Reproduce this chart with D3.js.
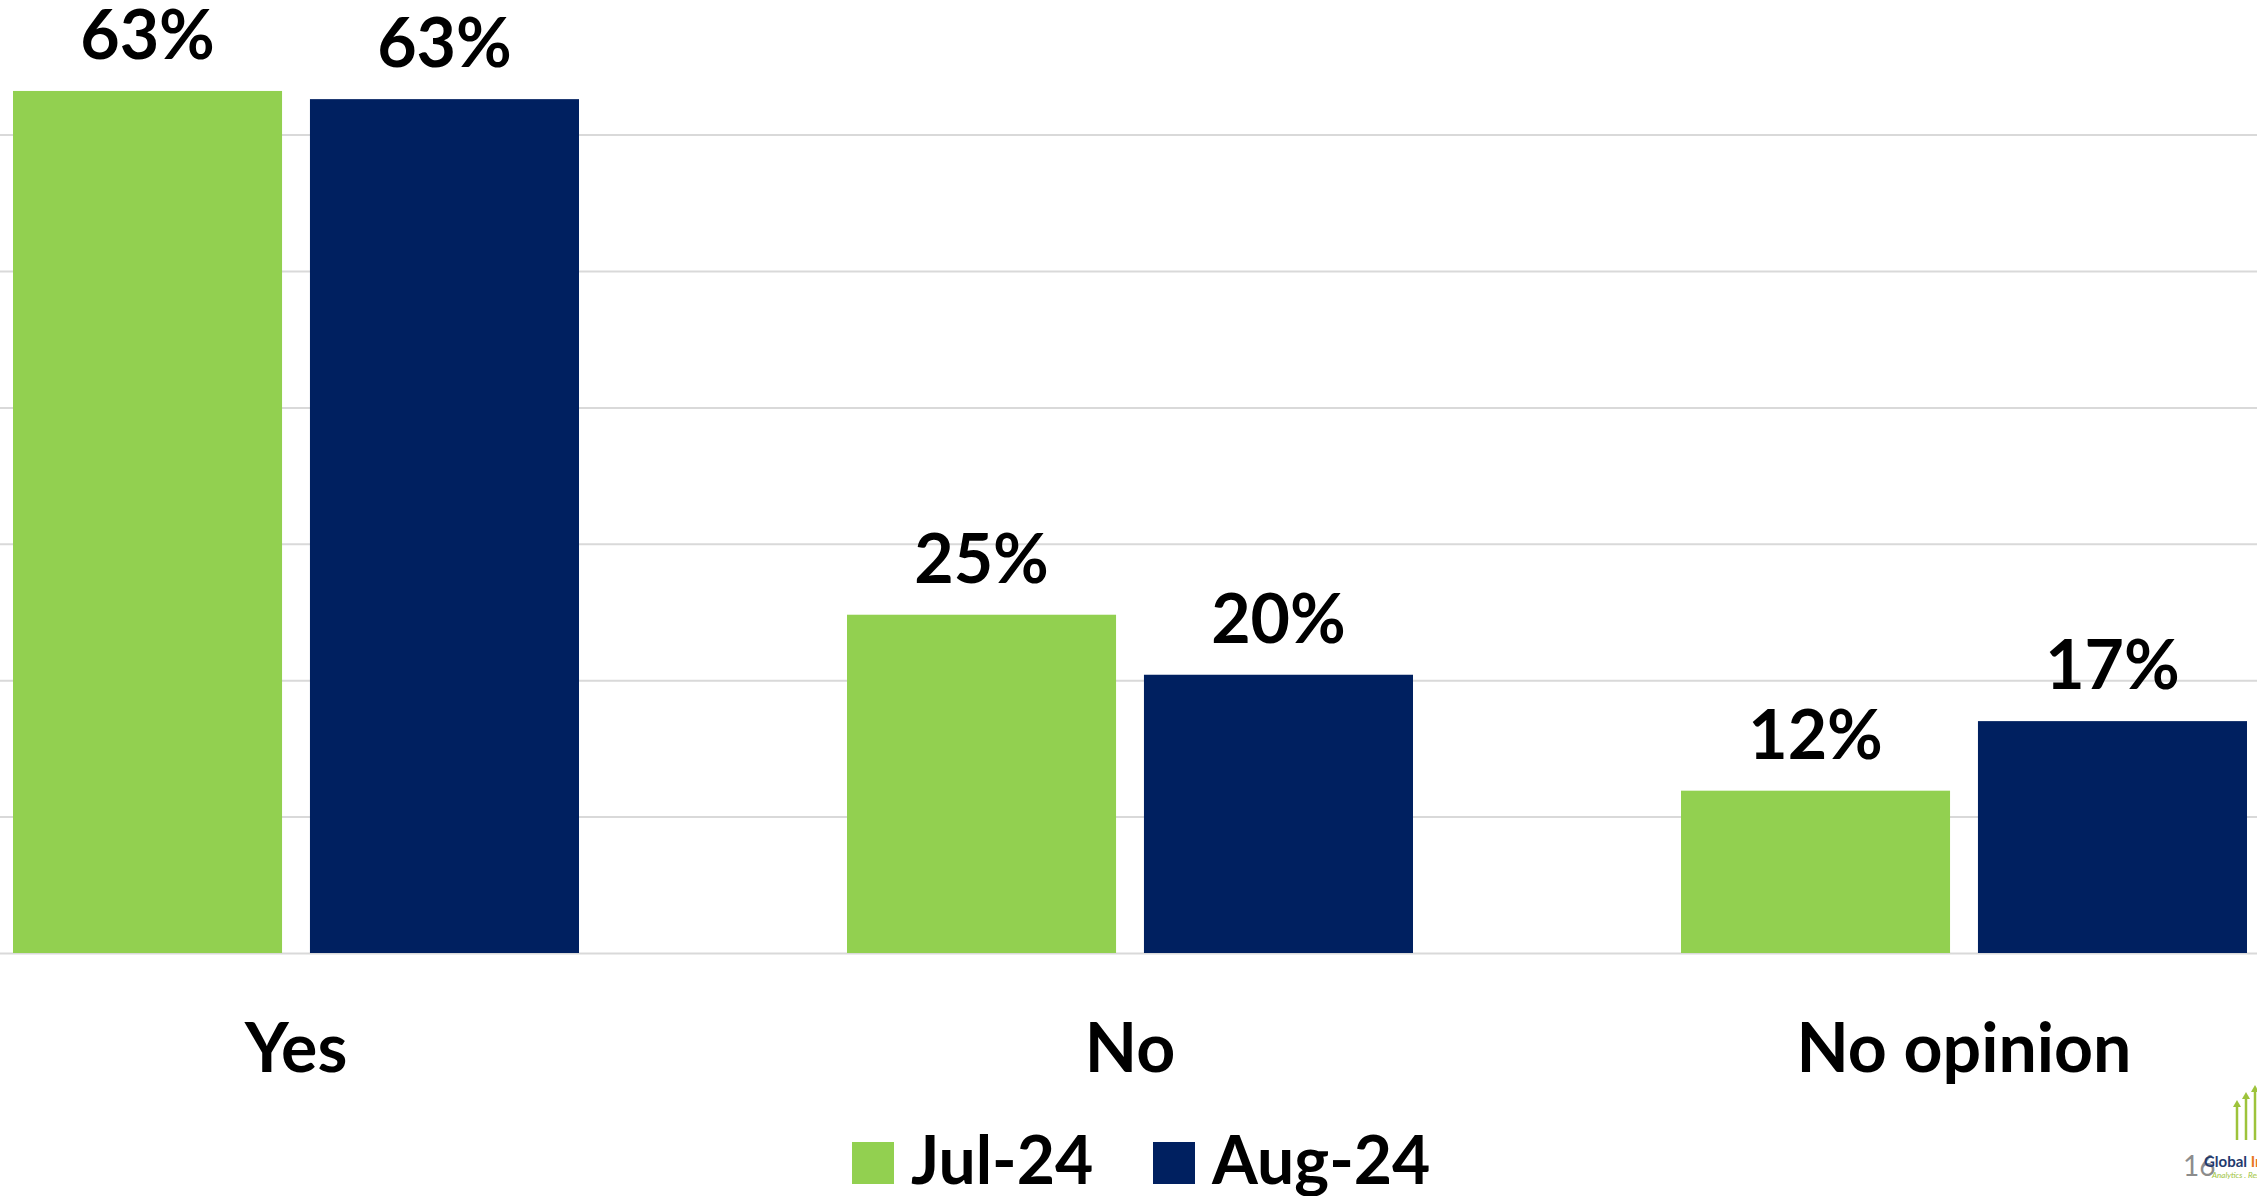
<!DOCTYPE html>
<html>
<head>
<meta charset="utf-8">
<script src="https://cdn.jsdelivr.net/npm/d3@7"></script>
<style>
  html, body { margin: 0; padding: 0; background: #fff; overflow: hidden; }
  svg { display: block; }
  text { font-family: Lato, "Open Sans", sans-serif; }
</style>
</head>
<body>
<svg id="chart" width="2257" height="1196"></svg>
<script>
const categories = ["Yes", "No", "No opinion"];
const seriesNames = ["Jul-24", "Aug-24"];
const jul24 = [63.2, 24.8, 11.9];
const aug24 = [62.6, 20.4, 17.0];
const yTicks = [0, 10, 20, 30, 40, 50, 60, 70];
const seriesColors = ["#92D050", "#002060"];

const W = 2257, H = 1196;
const svg = d3.select("#chart");

const x0 = d3.scaleBand().domain(categories).range([-121, 2381]);
const x1 = d3.scaleBand().domain(seriesNames).range([134, 700]).paddingInner(0.094);
const y = d3.scaleLinear().domain([0, 70]).range([953, -1.8]);
const color = d3.scaleOrdinal().domain(seriesNames).range(seriesColors);

// gridlines
const grid = svg.append("g").attr("class", "grid")
  .call(d3.axisLeft(y).tickValues(yTicks).tickSize(-W).tickFormat(""));
grid.select(".domain").remove();
grid.selectAll(".tick line").attr("stroke", "#d9d9d9").attr("stroke-width", 2);

const rows = categories.map((c, i) => ({
  category: c,
  values: [
    { series: seriesNames[0], value: jul24[i] },
    { series: seriesNames[1], value: aug24[i] }
  ]
}));

const groups = svg.append("g").selectAll("g.cat")
  .data(rows).join("g").attr("class", "cat")
  .attr("transform", d => `translate(${x0(d.category)},0)`);

groups.selectAll("rect")
  .data(d => d.values).join("rect")
  .attr("x", d => x1(d.series))
  .attr("width", x1.bandwidth())
  .attr("y", d => y(d.value))
  .attr("height", d => y(0) - y(d.value))
  .attr("fill", d => color(d.series));

groups.selectAll("text.val")
  .data(d => d.values).join("text").attr("class", "val")
  .attr("x", d => x1(d.series) + x1.bandwidth() / 2)
  .attr("y", d => y(d.value) - 32)
  .attr("text-anchor", "middle")
  .attr("font-size", 68)
  .attr("font-weight", 700)
  .attr("fill", "#000")
  .text(d => Math.round(d.value) + "%");

// category labels
svg.append("g").selectAll("text")
  .data(categories).join("text")
  .attr("x", d => x0(d) + x0.bandwidth() / 2)
  .attr("y", 1072)
  .attr("text-anchor", "middle")
  .attr("font-size", 68)
  .attr("font-weight", 700)
  .attr("fill", "#000")
  .text(d => d);

// legend
const legendX = [852, 1153];
const legend = svg.append("g").selectAll("g")
  .data(seriesNames).join("g")
  .attr("transform", (d, i) => `translate(${legendX[i]},0)`);
legend.append("rect")
  .attr("x", 0).attr("y", 1142).attr("width", 42).attr("height", 42)
  .attr("fill", d => color(d));
legend.append("text")
  .attr("x", 59).attr("y", 1184)
  .attr("font-size", 66).attr("font-weight", 700).attr("fill", "#000")
  .text(d => d);

// page number & logo
svg.append("text")
  .attr("x", 2183).attr("y", 1176)
  .attr("font-family", "Liberation Sans, Arial, sans-serif")
  .attr("font-size", 28).attr("fill", "#8c8c8c")
  .text("16");
const logo = svg.append("g");
[[2237, 1140, 1100], [2246, 1140, 1092], [2255, 1140, 1085]].forEach(a => {
  logo.append("line").attr("x1", a[0]).attr("x2", a[0]).attr("y1", a[1]).attr("y2", a[2] + 6)
    .attr("stroke", "#9dc33b").attr("stroke-width", 2.5);
  logo.append("path")
    .attr("d", `M${a[0] - 4},${a[2] + 7} L${a[0]},${a[2]} L${a[0] + 4},${a[2] + 7} Z`)
    .attr("fill", "#9dc33b");
});
const lt = logo.append("text")
  .attr("x", 2204).attr("y", 1167)
  .attr("font-family", "Liberation Serif, serif")
  .attr("font-size", 15).attr("font-weight", 700);
lt.append("tspan").attr("fill", "#1f3a6e").text("Global ");
lt.append("tspan").attr("fill", "#e87722").text("In");
logo.append("text")
  .attr("x", 2212).attr("y", 1178)
  .attr("font-family", "Liberation Serif, serif")
  .attr("font-size", 8).attr("font-style", "italic").attr("fill", "#9dc33b")
  .text("Analytics . Research");
</script>
</body>
</html>
